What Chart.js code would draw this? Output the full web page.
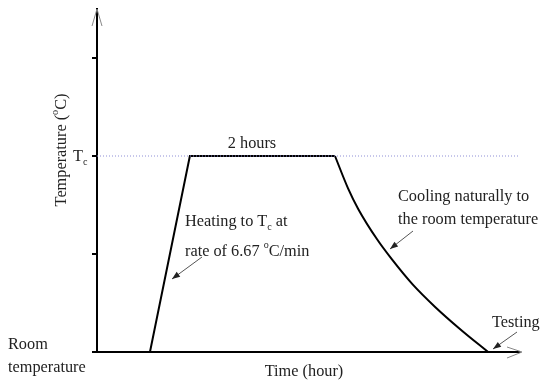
<!DOCTYPE html>
<html>
<head>
<meta charset="utf-8">
<script src="https://cdn.jsdelivr.net/npm/chart.js@4/dist/chart.umd.min.js"></script>
<style>
  body { margin: 0; background: #fff; }
  canvas { display: block; }
</style>
</head>
<body>
<canvas id="schedule" width="550" height="387"></canvas>
<script>
// time in hours from start, temperature in steps (0 = room, 2 = Tc)
const heatTime = [0.73, 1.28, 3.28];
const heatTemp = [0, 2, 2];

const coolTime = [3.28, 3.46, 3.60, 3.86, 4.06, 4.35, 4.66, 5.01, 5.39];
const coolTemp = [2, 1.67, 1.46, 1.15, 0.95, 0.69, 0.46, 0.23, 0];

const tcLevel = 2;
const yTicks = [0, 1, 2, 3];
const xMax = 5.83;
const yMax = 3.5;

const serif = '"Liberation Serif", "DejaVu Serif", serif';

function pts(xs, ys) {
  return xs.map((x, i) => ({ x: x, y: ys[i] }));
}

// text with a sub/superscript piece: parts = [[text, 'n'|'sub'|'sup'], ...]
function richText(ctx, parts, x, y, size) {
  let cx = x;
  parts.forEach(([t, kind]) => {
    const s = kind === "n" ? size : size * 0.62;
    const dy = kind === "sub" ? size * 0.3 : kind === "sup" ? -size * 0.42 : 0;
    ctx.font = s + "px " + serif;
    ctx.fillText(t, cx, y + dy);
    cx += ctx.measureText(t).width;
  });
  return cx - x;
}

function arrow(ctx, x1, y1, x2, y2) {
  ctx.save();
  ctx.strokeStyle = "#555";
  ctx.fillStyle = "#222";
  ctx.lineWidth = 1;
  ctx.beginPath();
  ctx.moveTo(x1, y1);
  ctx.lineTo(x2, y2);
  ctx.stroke();
  const a = Math.atan2(y2 - y1, x2 - x1);
  const L = 8, W = 3;
  ctx.beginPath();
  ctx.moveTo(x2, y2);
  ctx.lineTo(x2 - L * Math.cos(a) + W * Math.sin(a), y2 - L * Math.sin(a) - W * Math.cos(a));
  ctx.lineTo(x2 - L * Math.cos(a) - W * Math.sin(a), y2 - L * Math.sin(a) + W * Math.cos(a));
  ctx.closePath();
  ctx.fill();
  ctx.restore();
}

const labelsPlugin = {
  id: "labels",
  afterDraw(chart) {
    const ctx = chart.ctx;
    const { left, right, top, bottom } = chart.chartArea;
    const ys = chart.scales.y;
    const fs = 16.3;

    ctx.save();
    // open arrow heads on the axes
    ctx.strokeStyle = "#888";
    ctx.lineWidth = 1;
    ctx.beginPath();
    ctx.moveTo(left - 5, top + 17);
    ctx.lineTo(left, top);
    ctx.lineTo(left + 5, top + 17);
    ctx.moveTo(right - 13, bottom - 5);
    ctx.lineTo(right + 2, bottom);
    ctx.lineTo(right - 13, bottom + 6);
    ctx.stroke();

    ctx.fillStyle = "#222";
    ctx.textBaseline = "middle";
    ctx.textAlign = "left";

    // Tc tick label
    richText(ctx, [["T", "n"], ["c", "sub"]], 73, ys.getPixelForValue(tcLevel) + 1, fs);

    // y axis title
    ctx.save();
    ctx.translate(62, 150);
    ctx.rotate(-Math.PI / 2);
    const parts = [["Temperature (", "n"], ["o", "sup"], ["C)", "n"]];
    let w = 0;
    parts.forEach(([t, k]) => {
      ctx.font = (k === "n" ? fs : fs * 0.62) + "px " + serif;
      w += ctx.measureText(t).width;
    });
    richText(ctx, parts, -w / 2, 0, fs);
    ctx.restore();

    ctx.font = fs + "px " + serif;
    ctx.textAlign = "center";
    ctx.fillText("2 hours", 252, 144);
    ctx.fillText("Time (hour)", 304, 372);

    ctx.textAlign = "left";
    ctx.fillText("Room", 8, 345);
    ctx.fillText("temperature", 8, 368);
    ctx.fillText("Cooling naturally to", 398, 197);
    ctx.fillText("the room temperature", 398, 220);
    ctx.fillText("Testing", 492, 323);

    richText(ctx, [["Heating to T", "n"], ["c", "sub"], [" at", "n"]], 185, 222, fs);
    richText(ctx, [["rate of 6.67 ", "n"], ["o", "sup"], ["C/min", "n"]], 185, 252, fs);

    arrow(ctx, 202, 257, 172, 279);
    arrow(ctx, 413, 231, 390, 249);
    arrow(ctx, 517, 332, 493, 349);
    ctx.restore();
  }
};

new Chart(document.getElementById("schedule"), {
  type: "line",
  data: {
    datasets: [
      {
        data: pts([0, xMax], [tcLevel, tcLevel]),
        borderColor: "#8f8fd6",
        borderWidth: 1,
        borderDash: [1, 2],
        pointRadius: 0,
      },
      {
        data: pts(heatTime, heatTemp),
        borderColor: "#000",
        borderWidth: 2,
        pointRadius: 0,
        tension: 0,
      },
      {
        data: pts(coolTime, coolTemp),
        borderColor: "#000",
        borderWidth: 2,
        pointRadius: 0,
        cubicInterpolationMode: "monotone",
      },
    ],
  },
  options: {
    responsive: false,
    devicePixelRatio: 1,
    animation: false,
    layout: { padding: { left: 92, right: 30, top: 9, bottom: 35 } },
    plugins: {
      legend: { display: false },
      tooltip: { enabled: false },
    },
    scales: {
      x: {
        type: "linear",
        min: 0,
        max: xMax,
        ticks: { display: false },
        grid: { display: false },
        border: { display: true, color: "#000", width: 2 },
        afterFit: (s) => { s.height = 0; },
      },
      y: {
        min: 0,
        max: yMax,
        ticks: { display: false },
        afterBuildTicks: (s) => { s.ticks = yTicks.map((v) => ({ value: v })); },
        grid: { drawOnChartArea: false, drawTicks: true, tickLength: 5, color: "#000", lineWidth: 2 },
        border: { display: true, color: "#000", width: 2 },
        afterFit: (s) => { s.width = 5; },
      },
    },
  },
  plugins: [labelsPlugin],
});
</script>
</body>
</html>
